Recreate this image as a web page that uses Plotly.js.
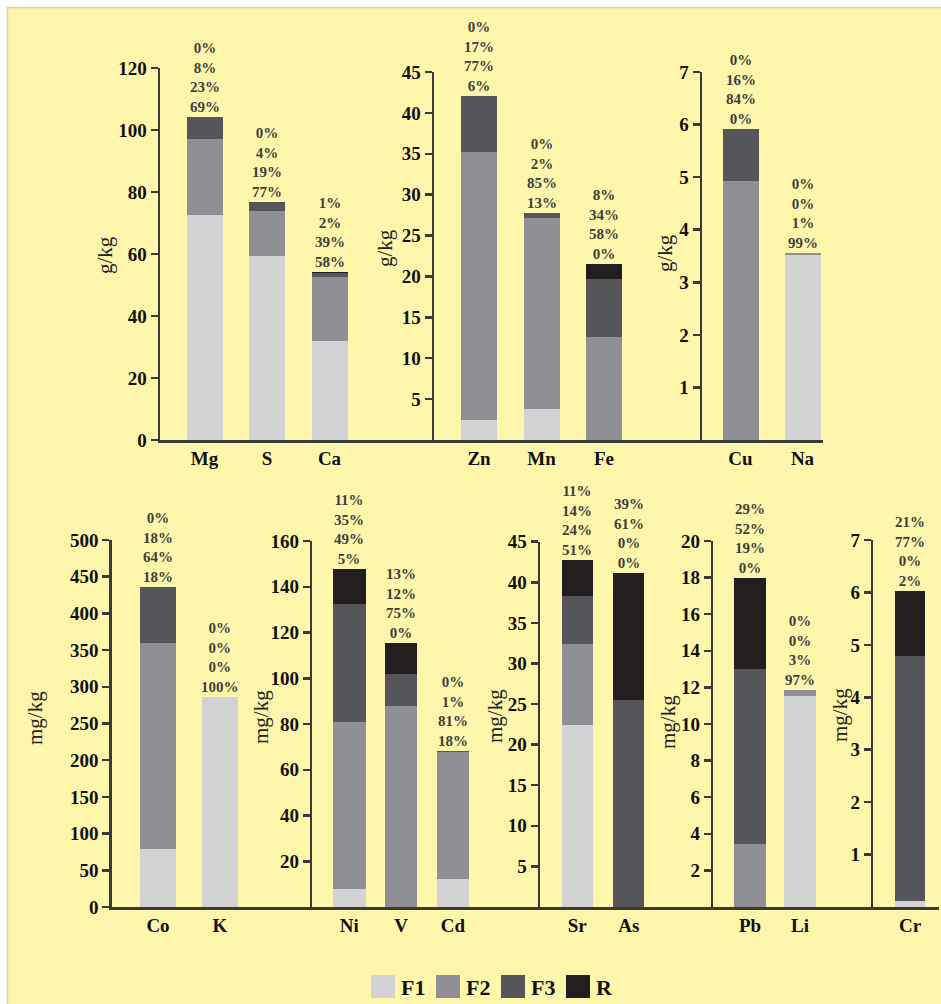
<!DOCTYPE html>
<html><head><meta charset="utf-8">
<script src="https://cdn.plot.ly/plotly-3.0.1.min.js"></script>
<style>html,body{margin:0;padding:0;background:#fff;} #chart{width:941px;height:1004px;}</style>
</head><body><div id="chart"></div>
<script>
// ---- data ----
const elements = ['Mg','S','Ca','Zn','Mn','Fe','Cu','Na','Co','K','Ni','V','Cd','Sr','As','Pb','Li','Cr'];
const panelOf  = [0,0,0, 1,1,1, 2,2, 3,3, 4,4,4, 5,5, 6,6, 7];
const F1 = [72.6,59.5,31.9, 2.45,3.8,0, 0,3.52, 79.6,285.5, 7.9,0,12.3, 22.4,0, 0,11.52, 0.12];
const F2 = [24.5,14.4,20.8, 32.75,23.4,12.6, 4.93,0.04, 280.4,0, 73.0,87.9,55.4, 10.0,0, 3.46,0.33, 0];
const F3 = [7.0,3.0,1.1, 6.9,0.5,7.1, 0.98,0, 75.5,0, 51.5,14.1,0.6, 5.9,25.5, 9.52,0, 4.66];
const R  = [0,0,0.5, 0,0,1.8, 0,0, 0,0, 15.3,13.2,0, 4.5,15.7, 5.02,0, 1.24];
const pctF1 = [69,77,58, 6,13,0, 0,99, 18,100, 5,0,18, 51,0, 0,97, 2];
const pctF2 = [23,19,39, 77,85,58, 84,1, 64,0, 49,75,81, 24,0, 19,3, 0];
const pctF3 = [8,4,2, 17,2,34, 16,0, 18,0, 35,12,1, 14,61, 52,0, 77];
const pctR  = [0,0,1, 0,0,8, 0,0, 0,0, 11,13,0, 11,39, 29,0, 21];
const yMax   = [120,45,7, 500,160,45,20,7];
const yStep  = [20,5,1, 50,20,5,2,1];
const yFirst = [0,5,1, 0,20,5,2,1];
const units  = ['g/kg','g/kg','g/kg','mg/kg','mg/kg','mg/kg','mg/kg','mg/kg'];
const seriesNames = ['F1','F2','F3','R'];
const seriesVals = [F1,F2,F3,R];

// ---- styling / geometry ----
const colors = ['#d3d3d5','#909094','#56565a','#231f20'];
const W = 941, H = 1004;
const px = x => x / W, py = y => 1 - y / H;
const geo = [
  {x0:160,  x1:434,   top:68,    bot:440, c0:204.5, sp:62.5,  bw:36, tx:105, ty:255},
  {x0:434,  x1:702,   top:72,    bot:440, c0:479,   sp:62.5,  bw:36, tx:385, ty:248},
  {x0:702,  x1:823,   top:72,    bot:440, c0:740.5, sp:62,    bw:36, tx:665, ty:253},
  {x0:111.7,x1:312.3, top:540,   bot:907, c0:158,   sp:61.8,  bw:36, tx:35,  ty:718},
  {x0:312.3,x1:540,   top:541,   bot:907, c0:349.3, sp:51.85, bw:32.5, tx:261, ty:717},
  {x0:540,  x1:713.3, top:541.7, bot:907, c0:577.2, sp:51.6,  bw:31, tx:495, ty:716},
  {x0:713.3,x1:873.3, top:541,   bot:907, c0:750,   sp:50,    bw:32, tx:668, ty:722},
  {x0:873.3,x1:939,   top:540,   bot:907, c0:910,   sp:50,    bw:30, tx:840, ty:715}
];
const serif = "'Liberation Serif','Times New Roman',serif";
const lineCol = '#3a3a3a';

const traces = [];
const annotations = [];
const layout = {
  width: W, height: H,
  margin: {l:0, r:0, t:0, b:0},
  paper_bgcolor: '#ffffff',
  plot_bgcolor: 'rgba(0,0,0,0)',
  barmode: 'stack',
  showlegend: false,
  font: {family: serif, color: '#111'},
  shapes: [
    {type:'rect', xref:'paper', yref:'paper', x0:px(7.5), x1:1.02, y0:-0.02, y1:py(7.5),
     fillcolor:'#fef7ab', line:{color:'#d8d0b4', width:1.5}, layer:'below'}
  ],
  annotations: annotations
};

for (let p = 0; p < geo.length; p++) {
  const g = geo[p];
  const n = p === 0 ? '' : String(p + 1);
  const idx = elements.map((e, i) => i).filter(i => panelOf[i] === p);
  const cats = idx.map(i => elements[i]);
  seriesVals.forEach((vals, s) => {
    traces.push({
      type: 'bar', name: seriesNames[s],
      x: cats, y: idx.map(i => vals[i]),
      xaxis: 'x' + n, yaxis: 'y' + n,
      width: g.bw / g.sp,
      marker: {color: colors[s], line: {width: 0}},
      hoverinfo: 'x+y+name'
    });
  });
  const tv = [];
  for (let v = yFirst[p]; v <= yMax[p] + 1e-9; v += yStep[p]) tv.push(v);
  layout['xaxis' + n] = {
    domain: [px(g.x0), px(g.x1)], anchor: 'y' + n,
    type: 'category', categoryorder: 'array', categoryarray: cats,
    range: [-(g.c0 - g.x0) / g.sp, (g.x1 - g.c0) / g.sp],
    showline: true, linecolor: lineCol, linewidth: 2.5,
    ticks: '', showgrid: false, zeroline: false, fixedrange: true,
    tickfont: {family: serif, size: 19, weight: 'bold', color: '#111'}
  };
  layout['yaxis' + n] = {
    domain: [py(g.bot), py(g.top)], anchor: 'x' + n,
    range: [0, yMax[p]], tickvals: tv, ticktext: tv.map(String),
    showline: true, linecolor: lineCol, linewidth: 2.5,
    ticks: 'outside', ticklen: 7, tickwidth: 2.5, tickcolor: lineCol,
    showgrid: false, zeroline: false, fixedrange: true,
    tickfont: {family: serif, size: 19, weight: 'bold', color: '#111'}
  };
  // axis title
  annotations.push({
    xref: 'paper', yref: 'paper', x: px(g.tx), y: py(g.ty),
    text: units[p], textangle: -90, showarrow: false,
    xanchor: 'center', yanchor: 'middle',
    font: {family: serif, size: 21, color: '#222'}
  });
  // percentage labels
  idx.forEach(i => {
    const total = F1[i] + F2[i] + F3[i] + R[i];
    annotations.push({
      xref: 'x' + n, yref: 'y' + n, x: elements[i], y: total,
      text: [pctR[i], pctF3[i], pctF2[i], pctF1[i]].map(v => v + '%').join('<br>'),
      showarrow: false, xanchor: 'center', yanchor: 'bottom', yshift: 0,
      font: {family: serif, size: 15, weight: 'bold', color: '#3e3e3e'}
    });
  });
}

// legend (drawn manually for large swatches)
const legX = [371, 436, 501, 566];
seriesNames.forEach((nm, s) => {
  layout.shapes.push({type:'rect', xref:'paper', yref:'paper',
    x0: px(legX[s]), x1: px(legX[s] + 24), y0: py(998), y1: py(975),
    fillcolor: colors[s], line: {width: 0}});
  annotations.push({xref:'paper', yref:'paper', x: px(legX[s] + 28), y: py(987),
    text: nm, showarrow: false, xanchor: 'left', yanchor: 'middle',
    font: {family: serif, size: 22, weight: 'bold', color: '#111'}});
});

Plotly.newPlot('chart', traces, layout, {displayModeBar: false, staticPlot: true});
</script>
</body></html>
